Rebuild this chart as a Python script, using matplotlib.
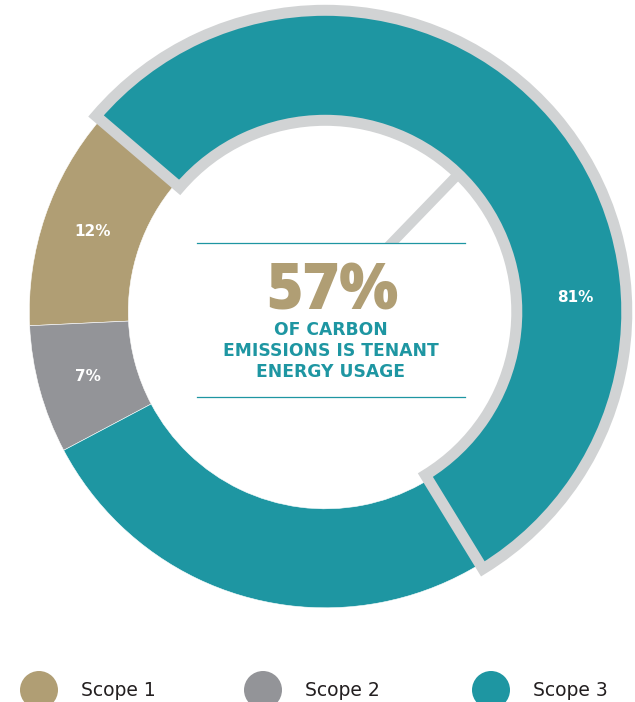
import numpy as np
import matplotlib
matplotlib.use('Agg')
import matplotlib.pyplot as plt
from matplotlib.patches import Wedge, Circle, Rectangle

# data
labels = ['Scope 1', 'Scope 2', 'Scope 3']
shares = [12, 7, 81]
colors = ['#b09e74', '#939498', '#1e96a2']
tenant_share = 57      # headline number in the middle
tenant_arc = 55        # part of the ring outlined in grey
headline = ['OF CARBON', 'EMISSIONS IS TENANT', 'ENERGY USAGE']

W, H = 635, 702
light = '#d1d3d4'
teal = colors[2]
tan = colors[0]

cx, cy = 325.3, H - 311.8   # ring centre (pixels, y up)
R, r = 296, 197             # outer / inner radius
start = 139.5               # angle of the Scope 1 / Scope 3 border

fig = plt.figure(figsize=(W / 100, H / 100), dpi=100)
ax = fig.add_axes([0, 0, 1, 1])

wedges, _, pcts = ax.pie(shares, colors=colors, startangle=start, counterclock=True,
                         radius=R, center=(cx, cy), frame=True,
                         wedgeprops=dict(width=R - r, edgecolor='white', linewidth=0.4),
                         autopct=lambda p: '%.0f%%' % p, pctdistance=(R + r) / 2 / R,
                         textprops=dict(color='white', fontsize=11, fontweight='bold',
                                        family='DejaVu Sans'))
for t in pcts:
    t.set_zorder(6)
# the Scope 3 label sits near the right hand side, not at the middle of the arc
a = np.radians(3.2)
pcts[2].set_position((cx + 250 * np.cos(a), cy + 250 * np.sin(a)))

# grey outlined part of the ring
pad = 5.5
hl = Wedge((cx, cy), R + pad, start - tenant_arc * 3.6, start, width=R - r + 2 * pad,
           facecolor=teal, edgecolor=light, linewidth=11 * 0.72, joinstyle='miter', zorder=4)
ax.add_patch(hl)

# pointer line into the hole
b = np.radians(46.0)
ax.plot([cx + 90 * np.cos(b), cx + (r - 5) * np.cos(b)],
        [cy + 90 * np.sin(b), cy + (r - 5) * np.sin(b)],
        color=light, lw=10 * 0.72, solid_capstyle='butt', zorder=3)

# text box in the middle
x0, x1 = 197, 465
ytop, ybot = H - 243, H - 397
ax.add_patch(Rectangle((x0, ybot), x1 - x0, ytop - ybot, facecolor='white',
                       edgecolor='none', zorder=3.5))
ax.plot([x0, x1], [ytop, ytop], color=teal, lw=0.9, zorder=5)
ax.plot([x0, x1], [ybot, ybot], color=teal, lw=0.9, zorder=5)

ax.text(332, H - 309, '%d%%' % tenant_share, ha='center', va='baseline',
        fontsize=45, fontweight='heavy', family='Open Sans', color=tan, zorder=6)
for i, line in enumerate(headline):
    ax.text(331, H - 335 - 21 * i, line, ha='center', va='baseline', fontsize=12.3,
            fontweight='bold', family='DejaVu Sans', color=teal, zorder=6)

# legend
leg_x = [39, 263, 491]
for x, lab, c in zip(leg_x, labels, colors):
    ax.add_patch(Circle((x, H - 690), 19, facecolor=c, edgecolor='none'))
    ax.text(x + 42, H - 690, lab, ha='left', va='center', fontsize=13.5,
            family='DejaVu Sans', color='#231f20')

ax.set_xlim(0, W)
ax.set_ylim(0, H)
ax.set_aspect('equal')
ax.axis('off')

fig.savefig('out.png', dpi=100)
